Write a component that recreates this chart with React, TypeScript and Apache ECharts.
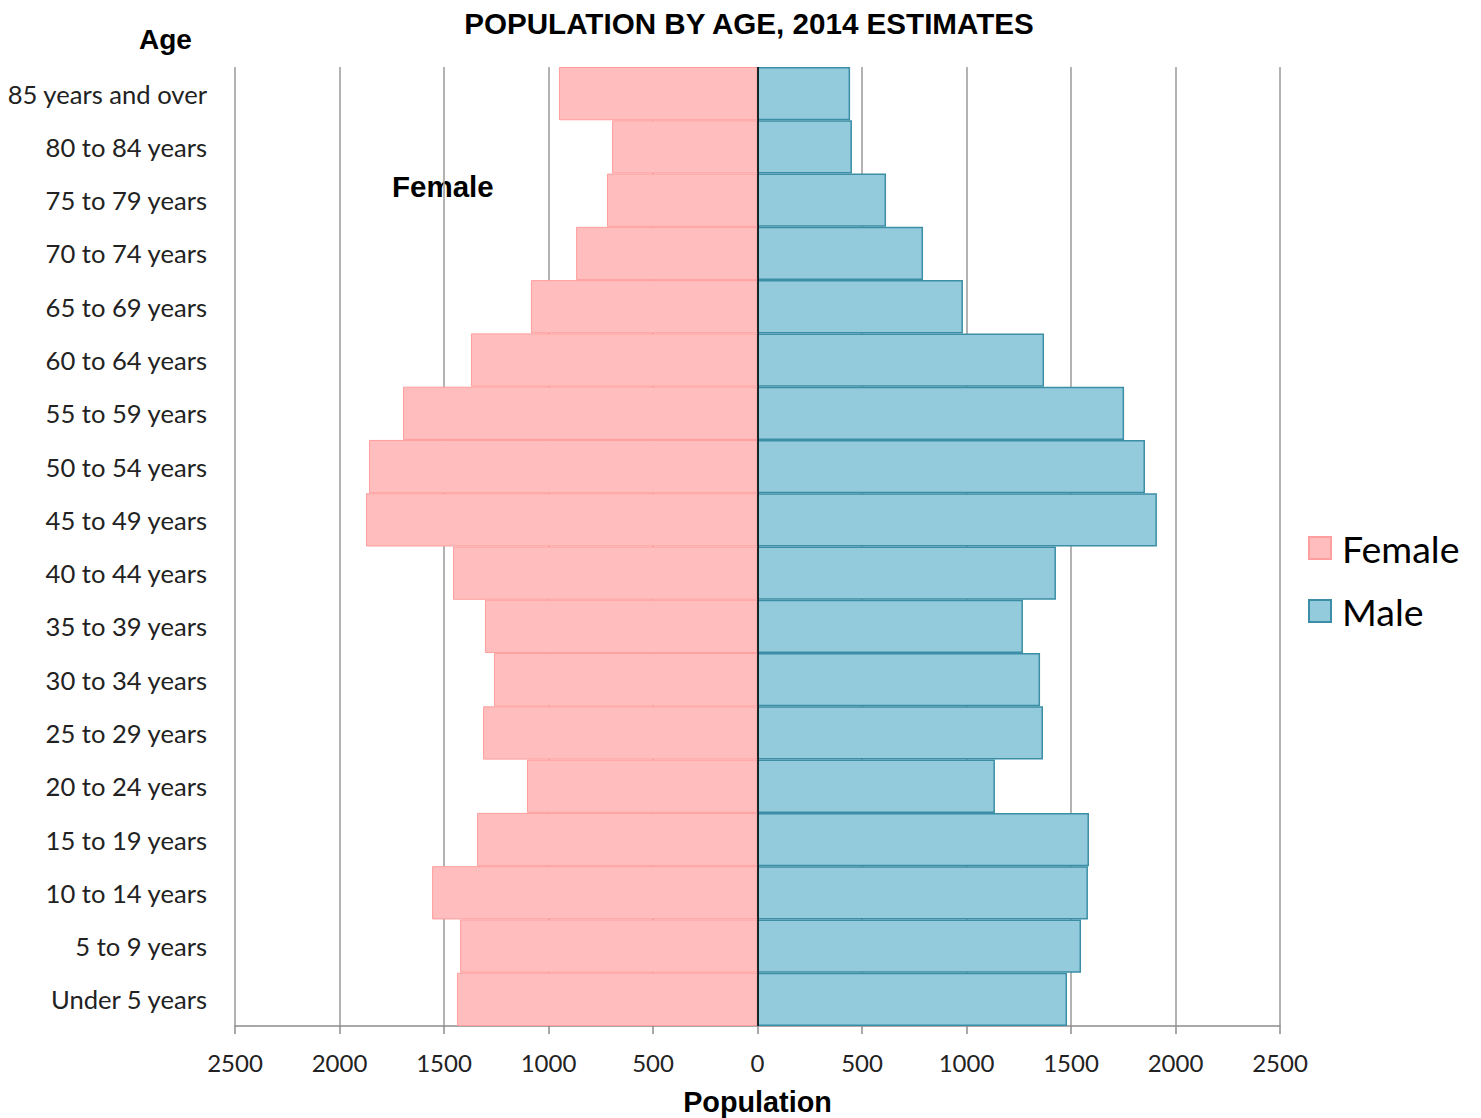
import React, { useEffect, useRef } from "react";
import * as echarts from "echarts";

const categories = [
  "Under 5 years", "5 to 9 years", "10 to 14 years", "15 to 19 years", "20 to 24 years",
  "25 to 29 years", "30 to 34 years", "35 to 39 years", "40 to 44 years", "45 to 49 years",
  "50 to 54 years", "55 to 59 years", "60 to 64 years", "65 to 69 years", "70 to 74 years",
  "75 to 79 years", "80 to 84 years", "85 years and over",
];
const female = [1438, 1423, 1557, 1342, 1103, 1313, 1261, 1304, 1457, 1873, 1859, 1696, 1371, 1084, 868, 720, 696, 950];
const male = [1481, 1548, 1581, 1586, 1136, 1366, 1352, 1270, 1428, 1911, 1854, 1754, 1371, 983, 792, 615, 452, 443];
const seriesNames = ["Female", "Male"];

const LABEL_FONT = "Lato, 'Noto Sans', sans-serif";
const BOLD_FONT = "'Liberation Sans', Arial, sans-serif";

export default function App() {
  const ref = useRef<HTMLDivElement>(null);
  useEffect(() => {
    document.body.style.margin = "0";
    const chart = echarts.init(ref.current!, null, { renderer: "svg" });
    chart.setOption({
      animation: false,
      backgroundColor: "#fff",
      title: {
        text: "POPULATION BY AGE, 2014 ESTIMATES",
        left: 744,
        textAlign: "center",
        top: 3,
        textStyle: { fontFamily: BOLD_FONT, fontWeight: "bold", fontSize: 29.6, color: "#000" },
      },
      legend: {
        data: seriesNames,
        orient: "vertical",
        left: 1308,
        top: 528,
        padding: 0,
        itemWidth: 22,
        itemHeight: 22,
        itemGap: 23,
        icon: "rect",
        textStyle: { fontFamily: LABEL_FONT, fontSize: 37.5, lineHeight: 40, color: "#000", padding: [0, 0, 0, 6] },
      },
      grid: { left: 235, right: 201, top: 67, bottom: 92, containLabel: false, outerBoundsMode: "none" },
      xAxis: {
        type: "value",
        min: -2500,
        max: 2500,
        interval: 500,
        name: "Population",
        nameLocation: "middle",
        nameGap: 61,
        nameTextStyle: { fontFamily: BOLD_FONT, fontWeight: "bold", fontSize: 28.8, color: "#000" },
        axisLine: { show: true, onZero: false, lineStyle: { color: "#8c8c8c", width: 1.5 } },
        axisTick: { show: true, length: 8, lineStyle: { color: "#8c8c8c", width: 1.5 } },
        axisLabel: {
          formatter: (v: number) => String(Math.abs(v)),
          fontFamily: LABEL_FONT,
          fontSize: 24,
          color: "#222",
          margin: 24,
        },
        splitLine: { show: true, lineStyle: { color: "#9a9a9a", width: 1.5 } },
      },
      yAxis: {
        type: "category",
        data: categories,
        axisLine: { show: false, onZero: false },
        axisTick: { show: false },
        axisLabel: { fontFamily: LABEL_FONT, fontSize: 25.6, color: "#222", margin: 28 },
        splitLine: { show: false },
      },
      series: [
        {
          name: seriesNames[0],
          type: "bar",
          data: female.map((v) => -v),
          barGap: "-100%",
          barCategoryGap: "0%",
          itemStyle: { color: "#FFBDBD", borderColor: "#FF9E9E", borderWidth: 1 },
        },
        {
          name: seriesNames[1],
          type: "bar",
          data: male,
          barGap: "-100%",
          barCategoryGap: "0%",
          itemStyle: { color: "#93CBDC", borderColor: "#3B8EA5", borderWidth: 1.5 },
          markLine: {
            silent: true,
            symbol: ["none", "none"],
            label: { show: false },
            lineStyle: { color: "#000", width: 1.5, type: "solid" },
            data: [{ xAxis: 0 }],
          },
        },
      ],
      graphic: [
        {
          type: "text",
          left: 139,
          top: 25,
          style: { text: "Age", fontFamily: BOLD_FONT, fontWeight: "bold", fontSize: 28, fill: "#000" },
        },
        {
          type: "rect",
          left: 386,
          top: 160,
          shape: { width: 114, height: 60 },
          style: { fill: "#fff" },
        },
        {
          type: "text",
          left: 392,
          top: 171,
          style: { text: "Female", fontFamily: BOLD_FONT, fontWeight: "bold", fontSize: 29.5, fill: "#000" },
        },
      ],
    });
    return () => chart.dispose();
  }, []);
  return <div ref={ref} style={{ width: 1481, height: 1118 }} />;
}
